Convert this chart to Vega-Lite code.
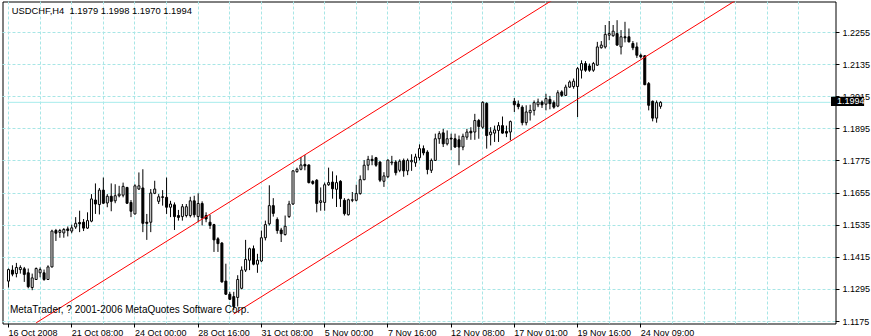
{
  "$schema": "https://vega.github.io/schema/vega-lite/v6.json",
  "width": 833,
  "height": 322,
  "autosize": {"type": "none"},
  "padding": {"left": 2.5, "top": 1.5, "right": 35.5, "bottom": 12.5},
  "background": "white",
  "config": {
    "view": {"stroke": "black", "strokeWidth": 1},
    "font": "Liberation Sans"
  },
  "datasets": {
    "candles": [
      {"bar":0,"open":1.1326,"high":1.1373,"low":1.1302,"close":1.1369},
      {"bar":1,"open":1.1367,"high":1.1385,"low":1.1344,"close":1.1352},
      {"bar":2,"open":1.1354,"high":1.1394,"low":1.1340,"close":1.1377},
      {"bar":3,"open":1.1369,"high":1.1385,"low":1.1354,"close":1.1377},
      {"bar":4,"open":1.1372,"high":1.1379,"low":1.1323,"close":1.1351},
      {"bar":5,"open":1.1357,"high":1.1373,"low":1.1299,"close":1.1305},
      {"bar":6,"open":1.1302,"high":1.1354,"low":1.1292,"close":1.1338},
      {"bar":7,"open":1.1332,"high":1.1377,"low":1.1330,"close":1.1373},
      {"bar":8,"open":1.1357,"high":1.1377,"low":1.1340,"close":1.1369},
      {"bar":9,"open":1.1357,"high":1.1369,"low":1.1327,"close":1.1332},
      {"bar":10,"open":1.1332,"high":1.1385,"low":1.1330,"close":1.1379},
      {"bar":11,"open":1.1379,"high":1.1518,"low":1.1377,"close":1.1513},
      {"bar":12,"open":1.1515,"high":1.1521,"low":1.1476,"close":1.1505},
      {"bar":13,"open":1.1508,"high":1.1521,"low":1.1488,"close":1.1515},
      {"bar":14,"open":1.1506,"high":1.1524,"low":1.1488,"close":1.1519},
      {"bar":15,"open":1.1521,"high":1.1530,"low":1.1493,"close":1.1515},
      {"bar":16,"open":1.1513,"high":1.1537,"low":1.1505,"close":1.1525},
      {"bar":17,"open":1.1528,"high":1.1565,"low":1.1521,"close":1.1542},
      {"bar":18,"open":1.1545,"high":1.1589,"low":1.1509,"close":1.1540},
      {"bar":19,"open":1.1546,"high":1.1558,"low":1.1513,"close":1.1524},
      {"bar":20,"open":1.1524,"high":1.1583,"low":1.1521,"close":1.1552},
      {"bar":21,"open":1.1550,"high":1.1651,"low":1.1546,"close":1.1633},
      {"bar":22,"open":1.1629,"high":1.1691,"low":1.1577,"close":1.1614},
      {"bar":23,"open":1.1612,"high":1.1674,"low":1.1575,"close":1.1666},
      {"bar":24,"open":1.1666,"high":1.1713,"low":1.1614,"close":1.1617},
      {"bar":25,"open":1.1618,"high":1.1651,"low":1.1602,"close":1.1643},
      {"bar":26,"open":1.1643,"high":1.1691,"low":1.1587,"close":1.1624},
      {"bar":27,"open":1.1626,"high":1.1688,"low":1.1617,"close":1.1645},
      {"bar":28,"open":1.1645,"high":1.1682,"low":1.1639,"close":1.1651},
      {"bar":29,"open":1.1647,"high":1.1694,"low":1.1639,"close":1.1680},
      {"bar":30,"open":1.1676,"high":1.1678,"low":1.1614,"close":1.1617},
      {"bar":31,"open":1.1620,"high":1.1629,"low":1.1565,"close":1.1587},
      {"bar":32,"open":1.1577,"high":1.1688,"low":1.1575,"close":1.1682},
      {"bar":33,"open":1.1670,"high":1.1732,"low":1.1667,"close":1.1682},
      {"bar":34,"open":1.1674,"high":1.1744,"low":1.1509,"close":1.1542},
      {"bar":35,"open":1.1546,"high":1.1577,"low":1.1480,"close":1.1542},
      {"bar":36,"open":1.1546,"high":1.1670,"low":1.1509,"close":1.1655},
      {"bar":37,"open":1.1654,"high":1.1701,"low":1.1651,"close":1.1670},
      {"bar":38,"open":1.1624,"high":1.1651,"low":1.1614,"close":1.1641},
      {"bar":39,"open":1.1641,"high":1.1666,"low":1.1608,"close":1.1639},
      {"bar":40,"open":1.1639,"high":1.1713,"low":1.1577,"close":1.1602},
      {"bar":41,"open":1.1602,"high":1.1626,"low":1.1565,"close":1.1614},
      {"bar":42,"open":1.1611,"high":1.1620,"low":1.1517,"close":1.1567},
      {"bar":43,"open":1.1571,"high":1.1592,"low":1.1552,"close":1.1564},
      {"bar":44,"open":1.1567,"high":1.1614,"low":1.1552,"close":1.1604},
      {"bar":45,"open":1.1571,"high":1.1614,"low":1.1564,"close":1.1604},
      {"bar":46,"open":1.1571,"high":1.1641,"low":1.1564,"close":1.1626},
      {"bar":47,"open":1.1626,"high":1.1645,"low":1.1564,"close":1.1574},
      {"bar":48,"open":1.1567,"high":1.1654,"low":1.1546,"close":1.1616},
      {"bar":49,"open":1.1616,"high":1.1624,"low":1.1534,"close":1.1562},
      {"bar":50,"open":1.1571,"high":1.1583,"low":1.1546,"close":1.1558},
      {"bar":51,"open":1.1546,"high":1.1574,"low":1.1521,"close":1.1534},
      {"bar":52,"open":1.1537,"high":1.1540,"low":1.1435,"close":1.1480},
      {"bar":53,"open":1.1484,"high":1.1490,"low":1.1435,"close":1.1466},
      {"bar":54,"open":1.1468,"high":1.1472,"low":1.1320,"close":1.1323},
      {"bar":55,"open":1.1326,"high":1.1391,"low":1.1274,"close":1.1277},
      {"bar":56,"open":1.1277,"high":1.1286,"low":1.1255,"close":1.1258},
      {"bar":57,"open":1.1268,"high":1.1286,"low":1.1218,"close":1.1231},
      {"bar":58,"open":1.1265,"high":1.1348,"low":1.1231,"close":1.1332},
      {"bar":59,"open":1.1299,"high":1.1381,"low":1.1295,"close":1.1367},
      {"bar":60,"open":1.1367,"high":1.1480,"low":1.1360,"close":1.1407},
      {"bar":61,"open":1.1404,"high":1.1451,"low":1.1367,"close":1.1447},
      {"bar":62,"open":1.1447,"high":1.1459,"low":1.1385,"close":1.1389},
      {"bar":63,"open":1.1389,"high":1.1428,"low":1.1357,"close":1.1404},
      {"bar":64,"open":1.1401,"high":1.1515,"low":1.1397,"close":1.1488},
      {"bar":65,"open":1.1488,"high":1.1552,"low":1.1478,"close":1.1537},
      {"bar":66,"open":1.1540,"high":1.1684,"low":1.1534,"close":1.1608},
      {"bar":67,"open":1.1608,"high":1.1636,"low":1.1567,"close":1.1579},
      {"bar":68,"open":1.1556,"high":1.1564,"low":1.1503,"close":1.1515},
      {"bar":69,"open":1.1517,"high":1.1525,"low":1.1472,"close":1.1503},
      {"bar":70,"open":1.1500,"high":1.1571,"low":1.1496,"close":1.1531},
      {"bar":71,"open":1.1567,"high":1.1626,"low":1.1562,"close":1.1614},
      {"bar":72,"open":1.1614,"high":1.1740,"low":1.1611,"close":1.1738},
      {"bar":73,"open":1.1735,"high":1.1750,"low":1.1731,"close":1.1744},
      {"bar":74,"open":1.1744,"high":1.1790,"low":1.1740,"close":1.1760},
      {"bar":75,"open":1.1762,"high":1.1797,"low":1.1740,"close":1.1756},
      {"bar":76,"open":1.1760,"high":1.1762,"low":1.1691,"close":1.1694},
      {"bar":77,"open":1.1698,"high":1.1703,"low":1.1686,"close":1.1691},
      {"bar":78,"open":1.1703,"high":1.1707,"low":1.1583,"close":1.1616},
      {"bar":79,"open":1.1620,"high":1.1676,"low":1.1589,"close":1.1626},
      {"bar":80,"open":1.1620,"high":1.1694,"low":1.1589,"close":1.1686},
      {"bar":81,"open":1.1686,"high":1.1750,"low":1.1682,"close":1.1694},
      {"bar":82,"open":1.1696,"high":1.1736,"low":1.1634,"close":1.1671},
      {"bar":83,"open":1.1669,"high":1.1721,"low":1.1603,"close":1.1694},
      {"bar":84,"open":1.1699,"high":1.1703,"low":1.1603,"close":1.1634},
      {"bar":85,"open":1.1628,"high":1.1636,"low":1.1571,"close":1.1578},
      {"bar":86,"open":1.1574,"high":1.1634,"low":1.1571,"close":1.1630},
      {"bar":87,"open":1.1628,"high":1.1659,"low":1.1621,"close":1.1630},
      {"bar":88,"open":1.1628,"high":1.1686,"low":1.1624,"close":1.1653},
      {"bar":89,"open":1.1653,"high":1.1721,"low":1.1649,"close":1.1705},
      {"bar":90,"open":1.1705,"high":1.1778,"low":1.1703,"close":1.1759},
      {"bar":91,"open":1.1759,"high":1.1794,"low":1.1740,"close":1.1781},
      {"bar":92,"open":1.1781,"high":1.1796,"low":1.1759,"close":1.1776},
      {"bar":93,"open":1.1787,"high":1.1790,"low":1.1753,"close":1.1759},
      {"bar":94,"open":1.1771,"high":1.1774,"low":1.1696,"close":1.1703},
      {"bar":95,"open":1.1699,"high":1.1733,"low":1.1678,"close":1.1719},
      {"bar":96,"open":1.1716,"high":1.1781,"low":1.1711,"close":1.1778},
      {"bar":97,"open":1.1768,"high":1.1794,"low":1.1759,"close":1.1771},
      {"bar":98,"open":1.1771,"high":1.1778,"low":1.1721,"close":1.1731},
      {"bar":99,"open":1.1740,"high":1.1781,"low":1.1733,"close":1.1774},
      {"bar":100,"open":1.1777,"high":1.1784,"low":1.1716,"close":1.1738},
      {"bar":101,"open":1.1738,"high":1.1784,"low":1.1722,"close":1.1777},
      {"bar":102,"open":1.1772,"high":1.1800,"low":1.1738,"close":1.1777},
      {"bar":103,"open":1.1768,"high":1.1802,"low":1.1753,"close":1.1790},
      {"bar":104,"open":1.1787,"high":1.1837,"low":1.1777,"close":1.1821},
      {"bar":105,"open":1.1821,"high":1.1833,"low":1.1796,"close":1.1805},
      {"bar":106,"open":1.1808,"high":1.1815,"low":1.1725,"close":1.1743},
      {"bar":107,"open":1.1740,"high":1.1784,"low":1.1730,"close":1.1777},
      {"bar":108,"open":1.1777,"high":1.1877,"low":1.1775,"close":1.1858},
      {"bar":109,"open":1.1858,"high":1.1886,"low":1.1839,"close":1.1877},
      {"bar":110,"open":1.1880,"high":1.1895,"low":1.1827,"close":1.1839},
      {"bar":111,"open":1.1839,"high":1.1889,"low":1.1833,"close":1.1858},
      {"bar":112,"open":1.1860,"high":1.1877,"low":1.1815,"close":1.1857},
      {"bar":113,"open":1.1858,"high":1.1877,"low":1.1824,"close":1.1827},
      {"bar":114,"open":1.1854,"high":1.1870,"low":1.1759,"close":1.1827},
      {"bar":115,"open":1.1827,"high":1.1877,"low":1.1815,"close":1.1867},
      {"bar":116,"open":1.1864,"high":1.1895,"low":1.1854,"close":1.1883},
      {"bar":117,"open":1.1886,"high":1.1901,"low":1.1854,"close":1.1880},
      {"bar":118,"open":1.1883,"high":1.1951,"low":1.1854,"close":1.1926},
      {"bar":119,"open":1.1926,"high":1.1932,"low":1.1858,"close":1.1904},
      {"bar":120,"open":1.1901,"high":1.1998,"low":1.1895,"close":1.1994},
      {"bar":121,"open":1.1990,"high":1.1994,"low":1.1821,"close":1.1870},
      {"bar":122,"open":1.1873,"high":1.1901,"low":1.1833,"close":1.1883},
      {"bar":123,"open":1.1879,"high":1.1907,"low":1.1846,"close":1.1891},
      {"bar":124,"open":1.1889,"high":1.1920,"low":1.1846,"close":1.1907},
      {"bar":125,"open":1.1907,"high":1.1941,"low":1.1877,"close":1.1879},
      {"bar":126,"open":1.1885,"high":1.1907,"low":1.1864,"close":1.1879},
      {"bar":127,"open":1.1883,"high":1.1926,"low":1.1852,"close":1.1922},
      {"bar":128,"open":1.1998,"high":1.2010,"low":1.1958,"close":1.1985},
      {"bar":129,"open":1.1988,"high":1.2001,"low":1.1968,"close":1.1978},
      {"bar":130,"open":1.1976,"high":1.1983,"low":1.1908,"close":1.1918},
      {"bar":131,"open":1.1918,"high":1.1983,"low":1.1908,"close":1.1958},
      {"bar":132,"open":1.1955,"high":1.1985,"low":1.1926,"close":1.1964},
      {"bar":133,"open":1.1964,"high":1.2001,"low":1.1945,"close":1.1993},
      {"bar":134,"open":1.1985,"high":1.2008,"low":1.1976,"close":1.1995},
      {"bar":135,"open":1.1995,"high":1.2001,"low":1.1973,"close":1.1985},
      {"bar":136,"open":1.1987,"high":1.2026,"low":1.1964,"close":1.2008},
      {"bar":137,"open":1.2005,"high":1.2018,"low":1.1968,"close":1.1989},
      {"bar":138,"open":1.1993,"high":1.2001,"low":1.1970,"close":1.1976},
      {"bar":139,"open":1.1980,"high":1.2039,"low":1.1976,"close":1.2030},
      {"bar":140,"open":1.2033,"high":1.2039,"low":1.2014,"close":1.2020},
      {"bar":141,"open":1.2020,"high":1.2060,"low":1.2018,"close":1.2051},
      {"bar":142,"open":1.2051,"high":1.2076,"low":1.2048,"close":1.2070},
      {"bar":143,"open":1.2053,"high":1.2083,"low":1.2045,"close":1.2073},
      {"bar":144,"open":1.2053,"high":1.2126,"low":1.1939,"close":1.2120},
      {"bar":145,"open":1.2114,"high":1.2151,"low":1.2083,"close":1.2139},
      {"bar":146,"open":1.2139,"high":1.2148,"low":1.2108,"close":1.2114},
      {"bar":147,"open":1.2130,"high":1.2139,"low":1.2108,"close":1.2114},
      {"bar":148,"open":1.2114,"high":1.2145,"low":1.2108,"close":1.2139},
      {"bar":149,"open":1.2133,"high":1.2220,"low":1.2130,"close":1.2201},
      {"bar":150,"open":1.2198,"high":1.2223,"low":1.2195,"close":1.2208},
      {"bar":151,"open":1.2201,"high":1.2283,"low":1.2195,"close":1.2248},
      {"bar":152,"open":1.2245,"high":1.2298,"low":1.2226,"close":1.2251},
      {"bar":153,"open":1.2243,"high":1.2283,"low":1.2239,"close":1.2260},
      {"bar":154,"open":1.2251,"high":1.2301,"low":1.2205,"close":1.2208},
      {"bar":155,"open":1.2201,"high":1.2264,"low":1.2173,"close":1.2239},
      {"bar":156,"open":1.2239,"high":1.2295,"low":1.2218,"close":1.2235},
      {"bar":157,"open":1.2239,"high":1.2270,"low":1.2218,"close":1.2220},
      {"bar":158,"open":1.2214,"high":1.2223,"low":1.2189,"close":1.2198},
      {"bar":159,"open":1.2201,"high":1.2218,"low":1.2160,"close":1.2170},
      {"bar":160,"open":1.2170,"high":1.2176,"low":1.2158,"close":1.2164},
      {"bar":161,"open":1.2168,"high":1.2170,"low":1.2058,"close":1.2060},
      {"bar":162,"open":1.2064,"high":1.2070,"low":1.1964,"close":1.1983},
      {"bar":163,"open":1.1998,"high":1.2001,"low":1.1923,"close":1.1935},
      {"bar":164,"open":1.1935,"high":1.2001,"low":1.1918,"close":1.1993},
      {"bar":165,"open":1.1979,"high":1.1998,"low":1.1970,"close":1.1994}
    ],
    "channel": [
      {"line": "upper", "bar": 7, "price": 1.1170},
      {"line": "upper", "bar": 140, "price": 1.2398},
      {"line": "lower", "bar": 57, "price": 1.1203},
      {"line": "lower", "bar": 185, "price": 1.2384}
    ],
    "bid": [{"price": 1.1994, "label": "1.1994"}],
    "notes": [
      {"text": "USDCHF,H4\u00a0 1.1979 1.1998 1.1970 1.1994", "bar": 0.8, "price": 1.232414, "size": 9.4},
      {"text": "MetaTrader, ? 2001-2006 MetaQuotes Software Corp.", "bar": 0.375, "price": 1.120676, "size": 10}
    ]
  },
  "encoding": {
    "x": {
      "type": "quantitative",
      "scale": {"domain": [-0.25, 208], "nice": false, "zero": false},
      "axis": {
        "orient": "bottom", "title": null, "domain": false, "translate": 0, "zindex": 0,
        "values": [0,8,16,24,32,40,48,56,64,72,80,88,96,104,112,120,128,136,144,152,160,168,176,184,192,200],
        "grid": true, "gridColor": "#a8e6e6", "gridDash": [3, 2], "gridWidth": 1,
        "ticks": true, "tickSize": 4, "tickWidth": 1,
        "tickColor": {"condition": {"test": "datum.value % 16 === 0 && datum.value <= 160", "value": "black"}, "value": "transparent"},
        "labelExpr": "datum.value % 16 === 0 && datum.value <= 160 ? ['16 Oct 2008','21 Oct 08:00','24 Oct 00:00','28 Oct 16:00','31 Oct 08:00','5 Nov 00:00','7 Nov 16:00','12 Nov 08:00','17 Nov 01:00','19 Nov 16:00','24 Nov 09:00'][datum.value / 16] : ''",
        "labelAlign": "left", "labelBaseline": "top", "labelPadding": 1,
        "labelFont": "Liberation Sans", "labelFontSize": 9, "labelColor": "black",
        "labelFlush": false, "labelOverlap": false, "labelBound": false
      }
    },
    "y": {
      "type": "quantitative",
      "scale": {"domain": [1.116753, 1.237085], "nice": false, "zero": false},
      "axis": {
        "orient": "right", "title": null, "domain": false, "translate": 0, "zindex": 0,
        "values": [1.1175, 1.1295, 1.1415, 1.1535, 1.1655, 1.1775, 1.1895, 1.2015, 1.2135, 1.2255],
        "format": ".4f",
        "grid": true, "gridColor": "#a8e6e6", "gridDash": [3, 2], "gridWidth": 1,
        "ticks": true, "tickSize": 4, "tickColor": "black", "tickWidth": 1,
        "labelAlign": "left", "labelBaseline": "middle", "labelPadding": 3,
        "labelFont": "Liberation Sans", "labelFontSize": 9, "labelColor": "black",
        "labelFlush": false, "labelOverlap": false, "labelBound": false
      }
    }
  },
  "layer": [
    {
      "data": {"name": "bid"},
      "mark": {"type": "rule", "color": "#a8ecec", "strokeWidth": 1},
      "encoding": {
        "x": {"datum": -0.25},
        "x2": {"datum": 208},
        "y": {"field": "price"}
      }
    },
    {
      "data": {"name": "candles"},
      "mark": {"type": "rule", "color": "black", "strokeWidth": 1},
      "encoding": {
        "x": {"field": "bar"},
        "y": {"field": "low"},
        "y2": {"field": "high"}
      }
    },
    {
      "data": {"name": "candles"},
      "mark": {"type": "bar", "width": 2, "stroke": "black", "strokeWidth": 1},
      "encoding": {
        "x": {"field": "bar"},
        "y": {"field": "open"},
        "y2": {"field": "close"},
        "fill": {"condition": {"test": "datum.close >= datum.open", "value": "white"}, "value": "black"}
      }
    },
    {
      "data": {"name": "channel"},
      "mark": {"type": "line", "color": "#ff0000", "strokeWidth": 1, "clip": true},
      "encoding": {
        "x": {"field": "bar"},
        "y": {"field": "price"},
        "detail": {"field": "line"}
      }
    },
    {
      "data": {"name": "notes"},
      "mark": {"type": "text", "align": "left", "baseline": "alphabetic", "font": "Liberation Sans", "color": "black"},
      "encoding": {
        "x": {"field": "bar"},
        "y": {"field": "price"},
        "text": {"field": "text"},
        "size": {"field": "size", "type": "quantitative", "scale": null}
      }
    },
    {
      "data": {"name": "bid"},
      "mark": {"type": "rect", "color": "black", "clip": false},
      "encoding": {
        "x": {"datum": 208.125},
        "x2": {"datum": 216.5},
        "y": {"datum": 1.2015},
        "y2": {"datum": 1.19803}
      }
    },
    {
      "data": {"name": "bid"},
      "mark": {"type": "text", "align": "left", "baseline": "middle", "font": "Liberation Sans", "fontSize": 9, "color": "white", "dy": -1, "clip": false},
      "encoding": {
        "x": {"datum": 209.625},
        "y": {"field": "price"},
        "text": {"field": "label"}
      }
    }
  ]
}
